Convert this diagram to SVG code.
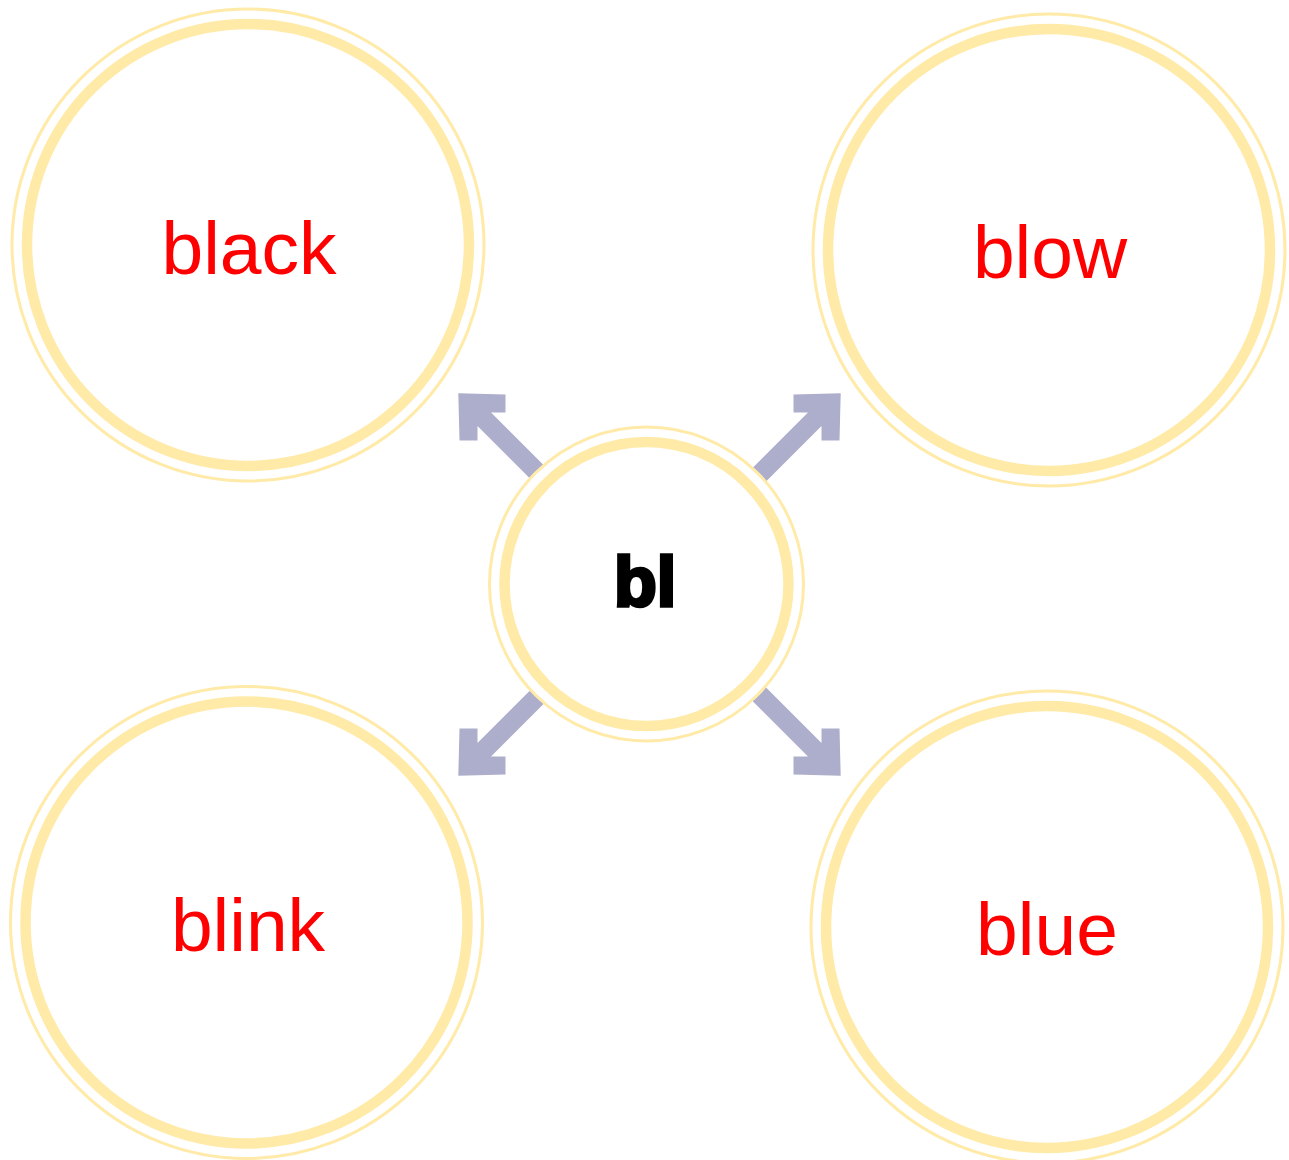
<svg xmlns="http://www.w3.org/2000/svg" width="1289" height="1160" viewBox="0 0 1289 1160">
<style>
.thin{fill:none;stroke:#FFEAA8;stroke-width:3}
.thick{fill:#fff;stroke:#FFEAA8;stroke-width:10.5}
.bg{fill:#fff}
.lbl{font-family:"Liberation Sans",Arial,sans-serif;font-size:75px;fill:#FF0000;text-anchor:middle}
.ctr{font-family:"Liberation Sans",Arial,sans-serif;font-size:70px;font-weight:bold;fill:#000;stroke:#000;stroke-width:3.5;stroke-linejoin:miter;text-anchor:middle}
.arr{fill:#ADADCC}
</style>
<defs>
<path id="arrow" d="M-191.2,-191.2 L-144,-190 L-144,-172 L-158.5,-172 L-100,-113.5 L-113.5,-100 L-172,-158.5 L-172,-144 L-190,-144 Z"/>
</defs>
<rect width="1289" height="1160" fill="#fff"/>
<g id="connectors" class="arr">
<use href="#arrow" transform="translate(649.5,584.5)"/>
<use href="#arrow" transform="translate(649.5,584.5) scale(-1,1)"/>
<use href="#arrow" transform="translate(649.5,584.5) scale(1,-1)"/>
<use href="#arrow" transform="translate(649.5,584.5) scale(-1,-1)"/>
</g>
<g id="node-black">
<circle class="thin" cx="248" cy="245" r="236"/>
<circle class="thick" cx="248" cy="245" r="221"/>
<text class="lbl" x="249" y="274">black</text>
</g>
<g id="node-blow">
<circle class="thin" cx="1049" cy="250" r="236"/>
<circle class="thick" cx="1049" cy="250" r="221"/>
<text class="lbl" x="1050" y="278">blow</text>
</g>
<g id="node-blink">
<circle class="thin" cx="246.5" cy="922.5" r="236"/>
<circle class="thick" cx="246.5" cy="922.5" r="221"/>
<text class="lbl" x="248" y="951">blink</text>
</g>
<g id="node-blue">
<circle class="thin" cx="1047" cy="927" r="236"/>
<circle class="thick" cx="1047" cy="927" r="221"/>
<text class="lbl" x="1047" y="955">blue</text>
</g>
<g id="node-bl">
<circle class="bg" cx="646.5" cy="584" r="158"/>
<circle class="thin" cx="646.5" cy="584" r="157"/>
<circle class="thick" cx="646.5" cy="584" r="142"/>
<text class="ctr" x="645" y="606">bl</text>
</g>
</svg>
